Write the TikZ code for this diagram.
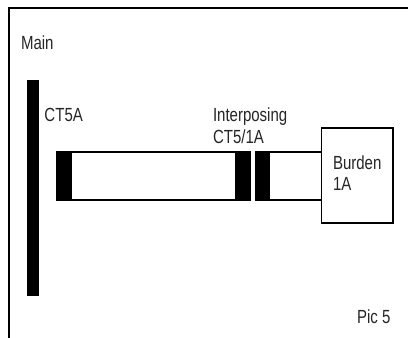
\documentclass[tikz,border=0pt]{standalone}
\usepackage{fontspec}
\setmainfont[FakeStretch=0.79]{Liberation Sans}
\usetikzlibrary{calc}
\tikzset{
  lbl/.style={inner sep=0pt,outer sep=0pt,anchor=base west,font=\fontsize{19}{21}\selectfont,text=black!85},
  solid block/.style={fill=black,draw=none,inner sep=0pt,outer sep=0pt,rectangle,anchor=north west},
  wire/.style={draw=black,line width=1.7pt},
  frameline/.style={draw=black,line width=2pt}
}
\begin{document}
\begin{tikzpicture}[x=1pt,y=-1pt]
\useasboundingbox (0,0) rectangle (408,338);
\fill[white] (0,0) rectangle (408,338);
\coordinate (fa) at (9,338);
\coordinate (fb) at (9,7.7);
\coordinate (fc) at (408,7.7);
\draw[frameline] (fa) -- (fb) -- (fc);
\node[solid block,minimum width=12pt,minimum height=216pt] (bus) at (27,80) {};
\node[solid block,minimum width=16pt,minimum height=50pt] (ct1) at (55.7,151) {};
\node[solid block,minimum width=15.5pt,minimum height=50pt] (ct2) at (235,151) {};
\node[solid block,minimum width=15.5pt,minimum height=50pt] (ct3) at (254.5,151) {};
\node[draw=black,line width=1.9pt,rectangle,inner sep=0pt,outer sep=0pt,anchor=north west,minimum width=71.5pt,minimum height=95pt] (burden) at (321.5,128) {};
\draw[wire] ($(ct1.north east)+(0,0.85)$) -- ($(ct2.north west)+(0,0.85)$);
\draw[wire] ($(ct1.south east)+(0,-0.85)$) -- ($(ct2.south west)+(0,-0.85)$);
\draw[wire] ($(ct3.north east)+(0,0.85)$) -- ($(ct3.north east -| burden.west)+(0,0.85)$);
\draw[wire] ($(ct3.south east)+(0,-0.85)$) -- ($(ct3.south east -| burden.west)+(0,-0.85)$);
\node[lbl] (main) at (21,49) {Main};
\node[lbl] (cta) at (44.5,121) {CT5A};
\node[lbl] (int) at (213,121.5) {Interposing};
\node[lbl] (ctb) at (213,143) {CT5/1A};
\node[lbl] (bur) at (333,169) {Burden};
\node[lbl] (one) at (333,190) {1A};
\node[lbl] (pic) at (357,323) {Pic 5};
\end{tikzpicture}
\end{document}
